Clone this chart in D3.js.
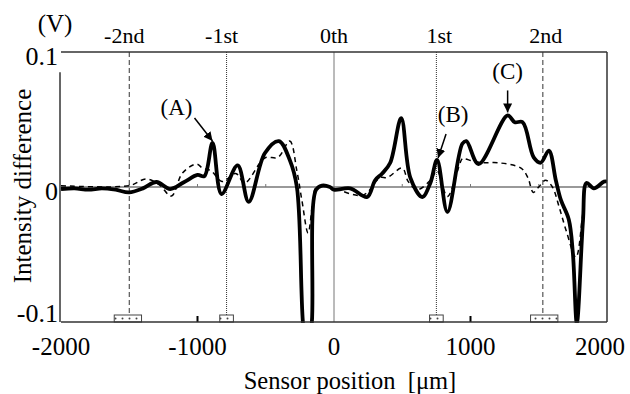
<!DOCTYPE html>
<html><head><meta charset="utf-8">
<script src="https://cdn.jsdelivr.net/npm/d3@7"></script>
<style>
html,body{margin:0;padding:0;background:#fff;}
svg{display:block;font-family:"Liberation Serif","Times New Roman",serif;}
</style></head>
<body><svg id="c" width="630" height="394"></svg>
<script>
// ---- data ----
const solidX = [-2000,-1900,-1800,-1700,-1600,-1500,-1400,-1300,-1200,-1100,-1000,-950,-890,-824,-706,-625,-507,-404,-324,-272,-228,-195,-162,-132,-88,-30,0,118,243,301,353,412,492,559,647,706,755,831,940,970,1059,1272,1324,1382,1463,1515,1574,1625,1662,1720,1750,1779,1824,1850,1904,1978,2000];
const solidY = [-0.0015,-0.001,-0.002,-0.001,-0.002,-0.004,-0.001,0.0037,-0.0015,0.0035,0.0089,0.008,0.0326,-0.0052,0.016,-0.011,0.025,0.034,0.020,0.000,-0.100,-0.130,-0.100,-0.0022,0.001,0.000,-0.002,-0.001,-0.0074,0.005,0.010,0.018,0.051,0.007,-0.0074,0.003,0.020,-0.0185,0.032,0.034,0.017,0.053,0.048,0.048,0.022,0.018,0.027,0.005,-0.0096,-0.024,-0.049,-0.101,-0.025,0.003,-0.001,0.004,0.004];
const dashX = [-2000,-1500,-1375,-1279,-1191,-1110,-1007,-963,-900,-820,-720,-654,-507,-410,-324,-272,-235,-190,-154,-130,-50,0,213,338,390,500,544,610,706,755,831,940,955,1025,1100,1200,1370,1420,1460,1500,1550,1600,1650,1700,1772,1820,1846,1904,1978,2000];
const dashY = [0.001,0.001,0.006,0.0015,-0.0067,0.0104,0.017,0.014,0.012,0.004,0.010,0.003,0.0215,0.022,0.034,0.012,-0.010,-0.034,-0.010,0.000,0.000,-0.001,-0.006,0.007,0.007,0.014,0.004,-0.002,0.005,0.012,-0.007,0.021,0.021,0.019,0.018,0.018,0.014,0.007,-0.004,0.000,0.005,0.000,-0.015,-0.032,-0.052,-0.022,0.001,-0.001,0.004,0.004];
const xTicks = [-2000,-1000,0,1000,2000];
const yTicks = [0.1,0,-0.1];
const yTickLabels = ["0.1","0","-0.1"];
const orderNames = ["-2nd","-1st","0th","1st","2nd"];
const orderPos = [-1500,-787,0,750,1530];
const orderStyle = ["dash","dot","solid","dot","dash"];
const boxCenters = [-1510,-787,750,1540];
const boxWidths = [200,100,100,200];
const minorTicks = [-1500,-1000,-500,500,1000,1500];
const annotations = [
  {label:"(A)", tx:-890, ty:0.0326},
  {label:"(B)", tx:755, ty:0.020},
  {label:"(C)", tx:1272, ty:0.053}
];

// ---- layout ----
const svg = d3.select("#c");
const x = d3.scaleLinear().domain([-2000,2000]).range([61,607]);
const y = d3.scaleLinear().domain([-0.1,0.1]).range([322,52]);

const defs = svg.append("defs");
defs.append("clipPath").attr("id","clip").append("rect")
  .attr("x",61).attr("y",40).attr("width",546).attr("height",283);
const pat = defs.append("pattern").attr("id","dots").attr("patternUnits","userSpaceOnUse")
  .attr("width",7).attr("height",7);
pat.append("rect").attr("width",7).attr("height",7).attr("fill","#fff");
pat.append("circle").attr("cx",3.5).attr("cy",3.5).attr("r",1).attr("fill","#444");
defs.append("marker").attr("id","arr").attr("viewBox","0 0 10 10").attr("refX",10).attr("refY",5)
  .attr("markerWidth",9).attr("markerHeight",9).attr("orient","auto-start-reverse")
  .attr("markerUnits","userSpaceOnUse")
  .append("path").attr("d","M0,0 L10,5 L0,10 z").attr("fill","#000");

// zero line & vertical 0 line
svg.append("line").attr("x1",x(-2000)).attr("x2",x(2000)).attr("y1",y(0)).attr("y2",y(0))
  .attr("stroke","#777").attr("stroke-width",1.5);
svg.selectAll(".mt").data(minorTicks).enter().append("line")
  .attr("x1",d=>x(d)).attr("x2",d=>x(d)).attr("y1",y(0)).attr("y2",y(0)-3)
  .attr("stroke","#777").attr("stroke-width",1);

// order lines
svg.selectAll(".ol").data(orderPos).enter().append("line")
  .attr("x1",d=>x(d)).attr("x2",d=>x(d)).attr("y1",y(0.1)).attr("y2",y(-0.1))
  .attr("stroke",(d,i)=>orderStyle[i]==="solid"?"#777":"#333")
  .attr("stroke-width",1)
  .attr("stroke-dasharray",(d,i)=>orderStyle[i]==="dash"?"5,3":orderStyle[i]==="dot"?"1,1":null);

// boxes at bottom
svg.selectAll(".bx").data(boxCenters).enter().append("rect")
  .attr("x",(d,i)=>x(d-boxWidths[i]/2)).attr("width",(d,i)=>x(d+boxWidths[i]/2)-x(d-boxWidths[i]/2))
  .attr("y",y(-0.1)-7).attr("height",7)
  .attr("fill","url(#dots)").attr("stroke","#444").attr("stroke-width",1);

// bottom ticks
svg.selectAll(".bt").data([-1000,1000]).enter().append("line")
  .attr("x1",d=>x(d)).attr("x2",d=>x(d)).attr("y1",y(-0.1)).attr("y2",y(-0.1)-6)
  .attr("stroke","#000").attr("stroke-width",2);

// curves
const line = d3.line().curve(d3.curveCatmullRom.alpha(0.5));
const g = svg.append("g").attr("clip-path","url(#clip)");
g.append("path").attr("d",line(dashX.map((v,i)=>[x(v),y(dashY[i])])))
  .attr("fill","none").attr("stroke","#000").attr("stroke-width",1.5).attr("stroke-dasharray","5,4");
g.append("path").attr("d",line(solidX.map((v,i)=>[x(v),y(solidY[i])])))
  .attr("fill","none").attr("stroke","#000").attr("stroke-width",3.8).attr("stroke-linejoin","round");

// frame
const fr = svg.append("g").attr("stroke","#333").attr("stroke-width",1.5).attr("fill","none");
fr.append("line").attr("x1",x(-2000)).attr("x2",x(2000)).attr("y1",y(0.1)).attr("y2",y(0.1));
fr.append("line").attr("x1",x(2000)).attr("x2",x(2000)).attr("y1",y(0.1)).attr("y2",y(-0.1));
fr.append("line").attr("x1",x(-2000)).attr("x2",x(2000)).attr("y1",y(-0.1)).attr("y2",y(-0.1));
fr.append("line").attr("x1",x(-2000)-1).attr("x2",x(-2000)-1).attr("y1",y(0.085)).attr("y2",y(-0.1));

// tick labels
svg.selectAll(".xl").data(xTicks).enter().append("text")
  .attr("x",d=>Math.min(x(d),600)).attr("y",355).attr("text-anchor","middle")
  .attr("font-size",25).text(d=>d);
svg.selectAll(".yl").data(yTicks).enter().append("text")
  .attr("x",58).attr("y",d=>Math.max(65, Math.min(y(d)+13, 322)))
  .attr("text-anchor","end").attr("font-size",26).text((d,i)=>yTickLabels[i]);

// order labels
svg.selectAll(".on").data(orderNames).enter().append("text")
  .attr("x",(d,i)=>x(orderPos[i])-(d.startsWith("-")?5:(d==="0th"?0:-3)))
  .attr("y",43).attr("text-anchor","middle").attr("font-size",22).text(d=>d);

// unit & titles
svg.append("text").attr("x",55).attr("y",32).attr("text-anchor","middle").attr("font-size",25).text("(V)");
svg.append("text").attr("x",350).attr("y",389).attr("text-anchor","middle").attr("font-size",24.5)
  .attr("xml:space","preserve").text("Sensor position  [μm]");
svg.append("text").attr("transform","translate(31,186) rotate(-90)").attr("text-anchor","middle")
  .attr("font-size",25).text("Intensity difference");

// annotations
const annOff = [{lx:-36,ly:-28,ax0:-18,ay0:-25,ax1:0,ay1:-2},
                {lx:16,ly:-38,ax0:9,ay0:-26,ax1:1,ay1:-2},
                {lx:0,ly:-36,ax0:0,ay0:-25,ax1:0,ay1:-3}];
annotations.forEach((a,i)=>{
  const px=x(a.tx), py=y(a.ty), o=annOff[i];
  svg.append("text").attr("x",px+o.lx).attr("y",py+o.ly).attr("text-anchor","middle")
    .attr("font-size",23).text(a.label);
  svg.append("line").attr("x1",px+o.ax0).attr("y1",py+o.ay0).attr("x2",px+o.ax1).attr("y2",py+o.ay1)
    .attr("stroke","#000").attr("stroke-width",1.5).attr("marker-end","url(#arr)");
});
</script></body></html>
